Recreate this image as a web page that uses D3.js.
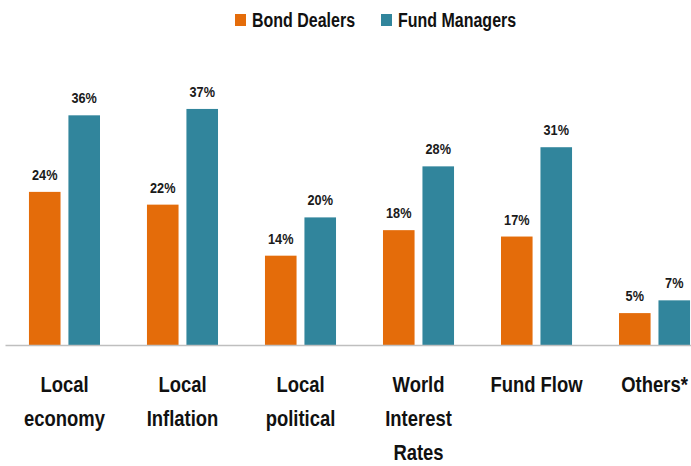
<!DOCTYPE html>
<html>
<head>
<meta charset="utf-8">
<script src="https://cdn.jsdelivr.net/npm/d3@7"></script>
<style>
  body { margin: 0; background: #fff; }
  svg { display: block; font-family: "Liberation Sans", Arial, sans-serif; font-weight: bold; }
</style>
</head>
<body>
<div id="chart"></div>
<script>
// data
const categories = ["Local\neconomy", "Local\nInflation", "Local\npolitical", "World\nInterest\nRates", "Fund Flow", "Others*"];
const series = ["Bond Dealers", "Fund Managers"];
const bondDealers = [24, 22, 14, 18, 17, 5];
const fundManagers = [36, 37, 20, 28, 31, 7];
const colors = ["#E46C0A", "#31859C"];

const width = 691, height = 466;
const baseY = 345;
const squeeze = 0.82; // narrow the sans font to look like the original's

const rows = categories.map((c, i) => ({cat: c, values: [bondDealers[i], fundManagers[i]]}));

const svg = d3.select("#chart").append("svg")
    .attr("width", width)
    .attr("height", height);

const x0 = d3.scaleBand()
    .domain(categories)
    .range([5, 714])
    .paddingInner(0.398)
    .paddingOuter(0.203);

const x1 = d3.scaleBand()
    .domain(series)
    .range([0, x0.bandwidth()])
    .paddingInner(0.2);

const y = d3.scaleLinear()
    .domain([0, 40])
    .range([baseY, baseY - 40 * 6.38]);

const color = d3.scaleOrdinal(series, colors);

// bars
const groups = svg.append("g")
    .selectAll("g")
    .data(rows)
    .join("g")
    .attr("transform", d => `translate(${x0(d.cat)},0)`);

groups.selectAll("rect")
    .data(d => series.map((s, j) => ({s, v: d.values[j]})))
    .join("rect")
    .attr("x", d => x1(d.s))
    .attr("y", d => y(d.v))
    .attr("width", x1.bandwidth())
    .attr("height", d => y(0) - y(d.v))
    .attr("fill", d => color(d.s));

groups.selectAll("text")
    .data(d => series.map((s, j) => ({s, v: d.values[j]})))
    .join("text")
    .attr("transform", d => `translate(${x1(d.s) + x1.bandwidth() / 2},${y(d.v) - 12}) scale(${squeeze},1)`)
    .attr("text-anchor", "middle")
    .attr("font-size", 15.5)
    .attr("fill", "#1a1a1a")
    .text(d => d.v + "%");

// x axis
const xAxis = svg.append("g")
    .attr("transform", `translate(0,${baseY})`)
    .call(d3.axisBottom(x0).tickSize(0).tickSizeOuter(0).tickFormat(""));

xAxis.select(".domain")
    .attr("stroke", "#bfbfbf")
    .attr("stroke-width", 1.5);

xAxis.selectAll(".tick text").remove();
xAxis.selectAll(".tick")
    .append("text")
    .attr("transform", `scale(${squeeze},1)`)
    .attr("text-anchor", "middle")
    .attr("font-size", 22.5)
    .attr("font-family", "Liberation Sans, Arial, sans-serif")
    .attr("font-weight", "bold")
    .attr("fill", "#111")
    .selectAll("tspan")
    .data(d => d.split("\n"))
    .join("tspan")
    .attr("x", 0)
    .attr("y", (d, i) => 47 + i * 34)
    .text(d => d);

// legend
const legendPos = [235, 381];
const legend = svg.append("g")
    .selectAll("g")
    .data(series)
    .join("g")
    .attr("transform", (d, i) => `translate(${legendPos[i]},0)`);

legend.append("rect")
    .attr("x", 0)
    .attr("y", 14)
    .attr("width", 11)
    .attr("height", 12)
    .attr("fill", d => color(d));

legend.append("text")
    .attr("transform", `translate(17,27) scale(${squeeze},1)`)
    .attr("font-size", 19.5)
    .attr("fill", "#111")
    .text(d => d);
</script>
</body>
</html>
